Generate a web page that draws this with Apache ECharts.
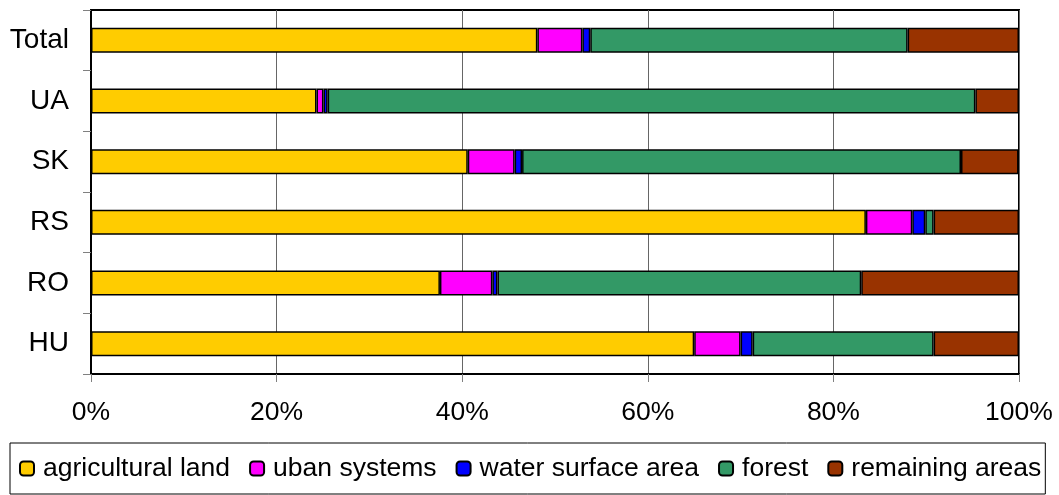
<!DOCTYPE html>
<html>
<head>
<meta charset="utf-8">
<script src="https://cdn.jsdelivr.net/npm/echarts@6/dist/echarts.min.js"></script>
<style>
  html, body { margin: 0; padding: 0; background: #fff; }
  #main { width: 1059px; height: 495px; }
</style>
</head>
<body>
<div id="main"></div>
<script>
// categories from bottom to top
var regions = ['HU', 'RO', 'RS', 'SK', 'UA', 'Total'];
var xTicks = ['0%', '20%', '40%', '60%', '80%', '100%'];

// share of area, % (same order as regions)
var agricultural = [65.0, 37.6, 83.5, 40.6, 24.3, 48.1];
var urban        = [5.0, 5.65, 5.0, 5.05, 0.75, 4.85];
var water        = [1.3, 0.55, 1.4, 0.8, 0.45, 0.85];
var forest       = [19.5, 39.2, 0.9, 47.3, 69.8, 34.2];
var remaining    = [9.2, 17.0, 9.2, 6.2, 4.7, 12.0];

var seriesDefs = [
  {name: 'agricultural land', data: agricultural, color: '#FFCC00'},
  {name: 'uban systems', data: urban, color: '#FF00FF'},
  {name: 'water surface area', data: water, color: '#0000FF'},
  {name: 'forest', data: forest, color: '#339966'},
  {name: 'remaining areas', data: remaining, color: '#993300'}
];

var font = '"Liberation Sans", Arial, sans-serif';

var chart = echarts.init(document.getElementById('main'));
chart.setOption({
  animation: false,
  textStyle: {fontFamily: font},
  grid: {
    left: 91, right: 40, top: 10, bottom: 121,
    show: true, borderColor: '#000', borderWidth: 2
  },
  legend: {
    left: 10, top: 443,
    padding: [12, 4, 12, 9],
    borderColor: '#000', borderWidth: 1,
    itemWidth: 14, itemHeight: 14, itemGap: 19,
    textStyle: {fontSize: 26.5, color: '#000', fontFamily: font, padding: [0, 0, 0, 4]},
    data: seriesDefs.map(function (s) { return s.name; })
  },
  xAxis: {
    type: 'value', min: 0, max: 100, interval: 20,
    axisLine: {show: true, lineStyle: {color: '#000', width: 2}},
    axisTick: {show: true, length: 8, lineStyle: {color: '#808080', width: 1}},
    splitLine: {show: true, lineStyle: {color: '#666', width: 1}},
    axisLabel: {
      fontSize: 26.5, color: '#000', margin: 25,
      formatter: function (v) { return xTicks[Math.round(v / 20)]; }
    }
  },
  yAxis: {
    type: 'category', data: regions,
    axisLine: {show: true, lineStyle: {color: '#000', width: 2}},
    axisTick: {show: true, length: 8, lineStyle: {color: '#808080', width: 1}},
    axisLabel: {fontSize: 28, color: '#000', margin: 22}
  },
  series: seriesDefs.map(function (s) {
    return {
      name: s.name, type: 'bar', stack: 'all',
      data: s.data, barWidth: 25,
      itemStyle: {color: s.color, borderColor: '#000', borderWidth: 1.5}
    };
  })
});
</script>
</body>
</html>
